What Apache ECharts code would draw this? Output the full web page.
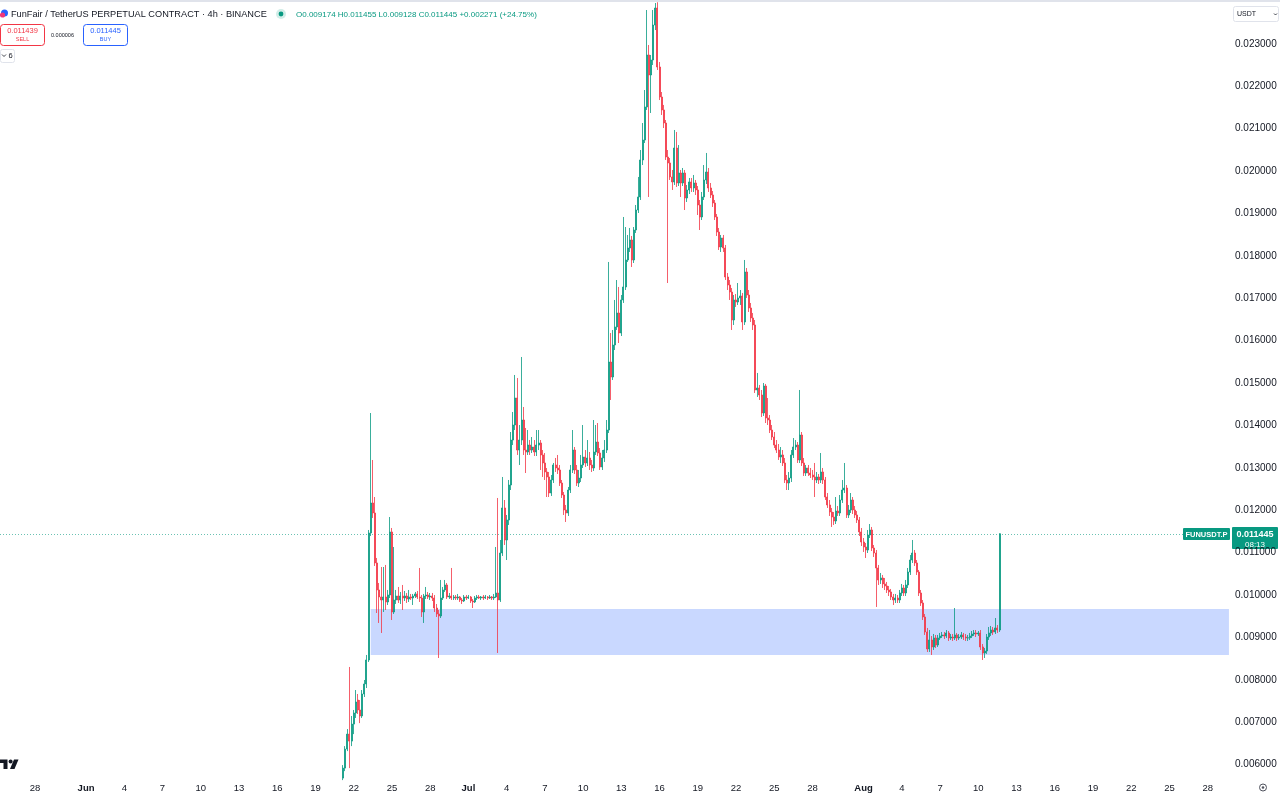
<!DOCTYPE html>
<html><head><meta charset="utf-8">
<script src="https://cdn.jsdelivr.net/npm/echarts@6/dist/echarts.min.js"></script>
<style>html,body{margin:0;padding:0;background:#fff}#c{width:1280px;height:798px}</style>
</head><body><div id="c"></div>
<script>
// ---- data ----
const axisStart = Date.UTC(2025, 4, 25, 8);   // first 4h slot of the time axis
const slotCount = 579;                          // 4h slots shown
const firstCandle = Date.UTC(2025, 5, 21, 4);   // open time of first candle
const dayLabels = [1, 4, 7, 10, 13, 16, 19, 22, 25, 28];
const monthNames = ['Jan','Feb','Mar','Apr','May','Jun','Jul','Aug','Sep','Oct','Nov','Dec'];
const priceTicks = [0.006,0.007,0.008,0.009,0.010,0.011,0.012,0.013,0.014,0.015,0.016,0.017,0.018,0.019,0.020,0.021,0.022,0.023];
const lastPrice = 0.011445;
const sellPrice = '0.011439', buyPrice = '0.011445', spread = '0.000006';
const ohlcHeader = 'O0.009174 H0.011455 L0.009128 C0.011445 +0.002271 (+24.75%)';
const zone = { start: Date.UTC(2025, 5, 23, 8), top: 0.00967, bottom: 0.008585 };
// [open, close, low, high]
const candles = [
[0.005681,0.005917,0.005634,0.005988],[0.005917,0.006366,0.005846,0.006436],[0.006366,0.006719,0.006318,0.006837],[0.006719,0.006554,0.005917,0.008302],
[0.006554,0.006955,0.006436,0.007146],[0.006955,0.007217,0.006719,0.007288],[0.007217,0.007476,0.007099,0.007759],[0.007523,0.007288,0.007193,0.007665],
[0.007288,0.007146,0.006978,0.007523],[0.007146,0.007665,0.007099,0.007759],[0.007665,0.007901,0.007594,0.007995],[0.007901,0.008467,0.007806,0.008585],
[0.008467,0.011462,0.008420,0.011533],[0.011462,0.012170,0.011391,0.014292],[0.012170,0.011934,0.011816,0.013184],[0.011934,0.010755,0.010684,0.012311],
[0.010755,0.010118,0.009575,0.010873],[0.010118,0.009953,0.009340,0.010283],[0.009953,0.009882,0.009104,0.010660],[0.009882,0.009953,0.009599,0.010660],
[0.009953,0.009835,0.009646,0.010708],[0.009835,0.010000,0.009764,0.010118],[0.010000,0.011486,0.009929,0.011839],[0.011486,0.009599,0.009410,0.011580],
[0.009599,0.009882,0.009552,0.011132],[0.009882,0.009976,0.009788,0.010118],[0.009976,0.009882,0.009811,0.010189],[0.009882,0.009976,0.009788,0.010071],
[0.009976,0.009929,0.009646,0.010236],[0.009929,0.009976,0.009858,0.010094],[0.009976,0.009906,0.009811,0.010047],[0.009906,0.009953,0.009835,0.010118],
[0.009953,0.009929,0.009882,0.010024],[0.009929,0.009976,0.009764,0.010024],[0.009976,0.010024,0.009929,0.010071],[0.010024,0.009953,0.009906,0.010094],
[0.009953,0.009929,0.009835,0.010637],[0.009929,0.009599,0.009481,0.010000],[0.009599,0.009976,0.009340,0.010024],[0.009976,0.010000,0.009906,0.010189],
[0.010000,0.009953,0.009906,0.010071],[0.009953,0.009976,0.009882,0.010047],[0.009976,0.009929,0.009858,0.010047],[0.009929,0.009693,0.009599,0.010000],
[0.009693,0.009552,0.009481,0.009788],[0.009552,0.009505,0.008514,0.009646],[0.009505,0.009929,0.009457,0.010354],[0.009929,0.010118,0.009882,0.010189],
[0.010118,0.010236,0.010071,0.010354],[0.010236,0.009953,0.009906,0.010283],[0.009953,0.009976,0.009906,0.010047],[0.009976,0.009929,0.009882,0.010637],
[0.009929,0.009953,0.009882,0.010000],[0.009953,0.009929,0.009882,0.010000],[0.009929,0.009953,0.009882,0.010024],[0.009953,0.009882,0.009835,0.009976],
[0.009882,0.009858,0.009788,0.009929],[0.009858,0.009953,0.009835,0.010000],[0.009953,0.009929,0.009882,0.010000],[0.009929,0.009953,0.009906,0.010000],
[0.009953,0.009858,0.009811,0.009976],[0.009858,0.009835,0.009693,0.009906],[0.009835,0.009929,0.009811,0.009976],[0.009929,0.009953,0.009882,0.010000],
[0.009953,0.009929,0.009906,0.010000],[0.009929,0.009953,0.009882,0.009976],[0.009953,0.009929,0.009882,0.010000],[0.009929,0.009953,0.009906,0.010000],
[0.009953,0.009929,0.009882,0.009976],[0.009929,0.009953,0.009906,0.010000],[0.009953,0.009929,0.009882,0.009976],[0.009929,0.009953,0.009882,0.010024],
[0.009953,0.010047,0.009929,0.011132],[0.010047,0.009882,0.008632,0.012288],[0.009882,0.010990,0.009835,0.011297],[0.010990,0.012052,0.010920,0.012783],
[0.012052,0.011297,0.011179,0.012240],[0.011297,0.011769,0.010825,0.011887],[0.011769,0.012594,0.011651,0.012712],[0.012594,0.013655,0.012476,0.013844],
[0.013655,0.014009,0.013537,0.014316],[0.014009,0.014646,0.013891,0.015189],[0.014646,0.013419,0.013302,0.015118],[0.013419,0.013655,0.013066,0.014009],
[0.013655,0.014127,0.013537,0.015613],[0.014127,0.013419,0.013302,0.014434],[0.013419,0.013372,0.012877,0.013939],[0.013372,0.013537,0.013302,0.013891],
[0.013537,0.013419,0.013302,0.013655],[0.013419,0.013490,0.013349,0.013726],[0.013490,0.013372,0.013278,0.013655],[0.013372,0.013537,0.013278,0.013891],
[0.013537,0.013585,0.013419,0.013891],[0.013585,0.013302,0.012948,0.013655],[0.013302,0.013113,0.012783,0.013419],[0.013113,0.012901,0.012712,0.013349],
[0.012901,0.012783,0.012311,0.012995],[0.012783,0.012405,0.012311,0.012901],[0.012405,0.012712,0.012335,0.012830],[0.012712,0.013066,0.012641,0.013113],
[0.013066,0.012995,0.012901,0.013231],[0.012995,0.012948,0.012854,0.013302],[0.012948,0.012641,0.012571,0.013066],[0.012641,0.012358,0.012288,0.012712],
[0.012358,0.012005,0.011887,0.012429],[0.012005,0.011934,0.011722,0.012123],[0.011934,0.012476,0.011863,0.012547],[0.012476,0.012948,0.012405,0.013066],
[0.012948,0.013419,0.012877,0.013891],[0.013419,0.012948,0.012854,0.013490],[0.012948,0.012641,0.012571,0.013066],[0.012641,0.012759,0.012547,0.012948],
[0.012759,0.013066,0.012665,0.013302],[0.013066,0.013254,0.012995,0.014009],[0.013254,0.013113,0.013019,0.013419],[0.013113,0.013231,0.013042,0.013655],
[0.013231,0.013066,0.012948,0.013372],[0.013066,0.012995,0.012901,0.013184],[0.012995,0.013372,0.012925,0.014127],[0.013372,0.013608,0.013302,0.014009],
[0.013608,0.013349,0.013278,0.014056],[0.013349,0.013019,0.012948,0.013466],[0.013019,0.013231,0.012948,0.013419],[0.013231,0.013419,0.013137,0.013655],
[0.013419,0.013891,0.013349,0.014127],[0.013891,0.015495,0.013820,0.017854],[0.015495,0.015141,0.014599,0.016179],[0.015141,0.015896,0.015071,0.016250],
[0.015896,0.016321,0.015778,0.016958],[0.016321,0.016651,0.016250,0.017429],[0.016651,0.016179,0.015943,0.017264],[0.016179,0.016958,0.016108,0.017075],
[0.016958,0.017264,0.016887,0.018915],[0.017264,0.017901,0.017193,0.018679],[0.017901,0.018184,0.017854,0.018491],[0.018184,0.018373,0.018090,0.018656],
[0.018373,0.017901,0.017736,0.018467],[0.017901,0.018608,0.017830,0.018679],[0.018608,0.019080,0.018538,0.019198],[0.019080,0.019387,0.019009,0.019859],
[0.019387,0.020260,0.019316,0.020495],[0.020260,0.020731,0.020141,0.021132],[0.020731,0.021510,0.020660,0.021910],[0.021510,0.022736,0.021439,0.023797],
[0.022736,0.022264,0.019387,0.022972],[0.022264,0.022618,0.021368,0.022736],[0.022618,0.023443,0.022500,0.023797],[0.023443,0.023844,0.023325,0.023962],
[0.023844,0.022453,0.022382,0.023980],[0.022453,0.021745,0.021674,0.022571],[0.021745,0.021439,0.021321,0.021863],[0.021439,0.021132,0.021014,0.021558],
[0.021132,0.020330,0.020260,0.021203],[0.020330,0.020189,0.017358,0.020495],[0.020189,0.019859,0.019788,0.020307],[0.019859,0.019741,0.019552,0.020024],
[0.019741,0.020542,0.019670,0.020967],[0.020542,0.019717,0.019623,0.020920],[0.019717,0.019953,0.019646,0.020613],[0.019953,0.019717,0.019387,0.020024],
[0.019717,0.019953,0.019646,0.020071],[0.019953,0.019363,0.019080,0.020024],[0.019363,0.019552,0.019269,0.019670],[0.019552,0.019741,0.019458,0.019835],
[0.019741,0.019599,0.019505,0.019835],[0.019599,0.019717,0.019505,0.019906],[0.019717,0.019552,0.019434,0.019788],[0.019552,0.019198,0.018962,0.019646],
[0.019198,0.018915,0.018608,0.019316],[0.018915,0.019387,0.018844,0.019505],[0.019387,0.019788,0.019316,0.020141],[0.019788,0.019976,0.019693,0.020425],
[0.019976,0.019599,0.019505,0.020071],[0.019599,0.019434,0.019363,0.019717],[0.019434,0.019245,0.019151,0.019528],[0.019245,0.018915,0.018844,0.019316],
[0.018915,0.018561,0.018467,0.018986],[0.018561,0.018208,0.018137,0.018656],[0.018208,0.018420,0.018090,0.018491],[0.018420,0.018184,0.018090,0.018491],
[0.018184,0.017500,0.017429,0.018255],[0.017500,0.017311,0.017193,0.017594],[0.017311,0.017146,0.016958,0.017429],[0.017146,0.016486,0.016250,0.017240],
[0.016486,0.016958,0.016368,0.017075],[0.016958,0.016910,0.016793,0.017099],[0.016910,0.017005,0.016840,0.017358],[0.017005,0.017052,0.016840,0.017193],
[0.017052,0.016439,0.016250,0.017123],[0.016439,0.017618,0.016368,0.017901],[0.017618,0.017075,0.017005,0.017712],[0.017075,0.016769,0.016675,0.017193],
[0.016769,0.016533,0.016439,0.016887],[0.016533,0.016368,0.016250,0.016651],[0.016368,0.014835,0.014764,0.016486],[0.014835,0.014882,0.014670,0.015236],
[0.014882,0.014717,0.014599,0.014953],[0.014717,0.014292,0.014198,0.014835],[0.014292,0.014929,0.014222,0.015000],[0.014929,0.014175,0.014056,0.014977],
[0.014175,0.014127,0.014009,0.014646],[0.014127,0.013891,0.013820,0.014245],[0.013891,0.013726,0.013655,0.014009],[0.013726,0.013537,0.013466,0.013844],
[0.013537,0.013419,0.013349,0.013655],[0.013419,0.013254,0.013184,0.013561],[0.013254,0.013302,0.013113,0.013490],[0.013302,0.013113,0.013042,0.013419],
[0.013113,0.012712,0.012641,0.013231],[0.012712,0.012641,0.012476,0.012830],[0.012641,0.012759,0.012476,0.012901],[0.012759,0.013302,0.012665,0.013419],
[0.013302,0.013490,0.013231,0.013702],[0.013490,0.013537,0.013419,0.013655],[0.013537,0.013184,0.013113,0.013608],[0.013184,0.013773,0.013113,0.014835],
[0.013773,0.013113,0.013042,0.013844],[0.013113,0.012877,0.012807,0.013231],[0.012877,0.012995,0.012807,0.013066],[0.012995,0.012877,0.012807,0.013066],
[0.012877,0.012830,0.012759,0.012995],[0.012830,0.012783,0.012712,0.012948],[0.012783,0.012712,0.012311,0.013113],[0.012712,0.012783,0.012641,0.012901],
[0.012783,0.012712,0.012618,0.012854],[0.012712,0.012901,0.012641,0.013349],[0.012901,0.012712,0.012618,0.012995],[0.012712,0.012311,0.012240,0.012783],
[0.012311,0.012123,0.012052,0.012405],[0.012123,0.011957,0.011863,0.012240],[0.011957,0.011839,0.011604,0.012052],[0.011839,0.011745,0.011651,0.011957],
[0.011745,0.011981,0.011674,0.012311],[0.011981,0.011934,0.011863,0.012099],[0.011934,0.012240,0.011863,0.012358],[0.012240,0.012476,0.012170,0.012712],
[0.012476,0.012523,0.012405,0.013113],[0.012523,0.011887,0.011816,0.012594],[0.011887,0.012005,0.011816,0.012123],[0.012005,0.012240,0.011934,0.012405],
[0.012240,0.012005,0.011910,0.012311],[0.012005,0.011887,0.011816,0.012099],[0.011887,0.011769,0.011698,0.011981],[0.011769,0.011486,0.011391,0.011839],
[0.011486,0.011250,0.011155,0.011580],[0.011250,0.011132,0.011014,0.011344],[0.011132,0.011061,0.010873,0.011226],[0.011061,0.011415,0.010990,0.011533],
[0.011415,0.011533,0.011344,0.011674],[0.011533,0.011108,0.011037,0.011604],[0.011108,0.010990,0.010896,0.011179],[0.010990,0.010637,0.009717,0.011061],
[0.010637,0.010354,0.010236,0.010708],[0.010354,0.010401,0.010260,0.010519],[0.010401,0.010260,0.010165,0.010472],[0.010260,0.010212,0.010118,0.010401],
[0.010212,0.010118,0.010047,0.010307],[0.010118,0.010071,0.009976,0.010212],[0.010071,0.009953,0.009882,0.010142],[0.009953,0.009882,0.009764,0.010024],
[0.009882,0.009929,0.009811,0.010024],[0.009929,0.009882,0.009811,0.010000],[0.009882,0.010047,0.009811,0.010118],[0.010047,0.010165,0.009976,0.010260],
[0.010165,0.010047,0.009976,0.010236],[0.010047,0.010236,0.009976,0.010354],[0.010236,0.010542,0.010165,0.010637],[0.010542,0.010825,0.010472,0.010943],
[0.010825,0.010990,0.010755,0.011297],[0.010990,0.010755,0.010684,0.011061],[0.010755,0.010542,0.010472,0.010825],[0.010542,0.010047,0.009976,0.010590],
[0.010047,0.009811,0.009741,0.010118],[0.009811,0.009481,0.009410,0.009882],[0.009481,0.009127,0.009057,0.009552],[0.009127,0.008727,0.008656,0.009222],
[0.008727,0.008939,0.008656,0.009174],[0.008939,0.008774,0.008585,0.009033],[0.008774,0.008986,0.008703,0.009080],[0.008986,0.008821,0.008750,0.009057],
[0.008821,0.008986,0.008774,0.009057],[0.008986,0.009033,0.008939,0.009104],[0.009033,0.009057,0.008986,0.009127],[0.009057,0.009033,0.008962,0.009127],
[0.009033,0.009104,0.008986,0.009174],[0.009104,0.008986,0.008915,0.009151],[0.008986,0.009009,0.008939,0.009080],[0.009009,0.008986,0.008915,0.009080],
[0.008986,0.009057,0.008939,0.009693],[0.009057,0.008986,0.008915,0.009104],[0.008986,0.009009,0.008939,0.009080],[0.009009,0.009057,0.008962,0.009127],
[0.009057,0.009009,0.008939,0.009104],[0.009009,0.008986,0.008915,0.009080],[0.008986,0.008990,0.008915,0.009057],[0.008990,0.009033,0.008939,0.009104],
[0.009033,0.009080,0.008986,0.009151],[0.009080,0.009104,0.009033,0.009174],[0.009104,0.009080,0.009009,0.009174],[0.009080,0.009104,0.009033,0.009151],
[0.009104,0.008774,0.008703,0.009174],[0.008774,0.008632,0.008467,0.008844],[0.008632,0.008679,0.008514,0.008750],[0.008679,0.009009,0.008609,0.009080],
[0.009009,0.009104,0.008939,0.009245],[0.009104,0.009174,0.009033,0.009269],[0.009174,0.009127,0.009057,0.009245],[0.009127,0.009222,0.009080,0.009457],
[0.009222,0.009174,0.009104,0.009292],[0.009174,0.011445,0.009128,0.011455]
];

// ---- build ----
const H4 = 4 * 3600 * 1000;
const UP = '#089981', DOWN = '#f23645', TXT = '#131722';
const FAMILY = '"Liberation Sans", Arial, sans-serif';
const categories = [];
for (let k = 0; k < slotCount; k++) categories.push(String(axisStart + k * H4));
const offset = Math.round((firstCandle - axisStart) / H4);
const seriesData = categories.map(() => ['-', '-', '-', '-']);
candles.forEach((c, j) => { seriesData[offset + j] = c; });
const zoneStartCat = String(zone.start);

function isLabelSlot(v) {
  const d = new Date(+v);
  return d.getUTCHours() === 0 && dayLabels.indexOf(d.getUTCDate()) >= 0;
}

const chart = echarts.init(document.getElementById('c'));
chart.setOption({
  animation: false,
  backgroundColor: '#ffffff',
  grid: { left: 0, right: 50, top: 1.4, bottom: 20.7 },
  xAxis: {
    type: 'category', data: categories, boundaryGap: true,
    axisLine: { show: false }, axisTick: { show: false }, splitLine: { show: false },
    axisLabel: {
      interval: (i, v) => isLabelSlot(v), margin: 6,
      color: TXT, fontSize: 9.5, fontFamily: FAMILY,
      formatter: (v) => {
        const d = new Date(+v);
        return d.getUTCDate() === 1 ? '{m|' + monthNames[d.getUTCMonth()] + '}' : String(d.getUTCDate());
      },
      rich: { m: { fontWeight: 'bold', fontSize: 9.5, fontFamily: FAMILY, color: TXT } }
    }
  },
  yAxis: {
    type: 'value', position: 'right', min: 0.0057, max: 0.0240, interval: 0.0001,
    axisLine: { show: false }, axisTick: { show: false }, splitLine: { show: false },
    axisLabel: {
      margin: 5, color: TXT, fontSize: 10, fontFamily: FAMILY,
      formatter: (v) => {
        const r = Math.round(v * 1e4) / 1e4;
        return priceTicks.some(p => Math.abs(p - r) < 1e-9) ? r.toFixed(6) : '';
      }
    }
  },
  series: [{
    type: 'candlestick', data: seriesData, large: false, barWidth: 1.5,
    itemStyle: { color: UP, color0: DOWN, borderColor: UP, borderColor0: DOWN, borderWidth: 0.8 },
    emphasis: { disabled: true },
    markArea: {
      silent: true, itemStyle: { color: 'rgba(41,98,255,0.25)' },
      data: [[{ xAxis: zoneStartCat, yAxis: zone.top }, { xAxis: categories[slotCount - 1], yAxis: zone.bottom }]]
    }
  }]
});

const yLine = Math.round(chart.convertToPixel({ yAxisIndex: 0 }, lastPrice)) + 0.5;
const t = (x, y, text, size, fill, extra) => ({
  type: 'text', x: x, y: y, silent: true,
  style: Object.assign({ text: text, fontSize: size, fontFamily: FAMILY, fill: fill, verticalAlign: 'middle' }, extra || {})
});
chart.setOption({
  graphic: [
    { type: 'rect', shape: { x: 0, y: 0, width: 1280, height: 2 }, style: { fill: '#e0e3eb' }, silent: true },
    { type: 'circle', shape: { cx: 4.5, cy: 13, r: 3.5 }, style: { fill: '#2962ff' }, silent: true },
    { type: 'circle', shape: { cx: 2.5, cy: 15, r: 2.6 }, style: { fill: '#f2367a' }, silent: true },
    t(11, 14.5, 'FunFair / TetherUS PERPETUAL CONTRACT · 4h · BINANCE', 9.2, TXT),
    { type: 'circle', shape: { cx: 281, cy: 14, r: 5 }, style: { fill: 'rgba(8,153,129,0.18)' }, silent: true },
    { type: 'circle', shape: { cx: 281, cy: 14, r: 2.4 }, style: { fill: UP }, silent: true },
    t(296, 14.5, ohlcHeader, 8, UP),
    { type: 'rect', shape: { x: 0.5, y: 24.5, width: 44, height: 21, r: 3 }, style: { fill: '#fff', stroke: DOWN, lineWidth: 1 }, silent: true },
    t(22.5, 31, sellPrice, 7.5, DOWN, { align: 'center' }),
    t(22.5, 39.5, 'SELL', 5.5, DOWN, { align: 'center' }),
    t(62.5, 35.5, spread, 5.5, TXT, { align: 'center' }),
    { type: 'rect', shape: { x: 83.5, y: 24.5, width: 44, height: 21, r: 3 }, style: { fill: '#fff', stroke: '#2962ff', lineWidth: 1 }, silent: true },
    t(105.5, 31, buyPrice, 7.5, '#2962ff', { align: 'center' }),
    t(105.5, 39.5, 'BUY', 5.5, '#2962ff', { align: 'center' }),
    { type: 'rect', shape: { x: 0.5, y: 49.5, width: 14, height: 13, r: 2 }, style: { fill: '#fff', stroke: '#e0e3eb', lineWidth: 1 }, silent: true },
    { type: 'polyline', shape: { points: [[2, 54.5], [4, 56.5], [6, 54.5]] }, style: { stroke: TXT, lineWidth: 0.8, fill: null }, silent: true },
    t(8.5, 56, '6', 7.5, TXT),
    { type: 'rect', shape: { x: 1233.5, y: 6.5, width: 45, height: 15, r: 2 }, style: { fill: '#fff', stroke: '#e0e3eb', lineWidth: 1 }, silent: true },
    t(1237, 14.5, 'USDT', 7, TXT),
    { type: 'polyline', shape: { points: [[1274, 13.5], [1275.5, 15], [1277, 13.5]] }, style: { stroke: TXT, lineWidth: 0.8, fill: null }, silent: true },
    // last-price dotted line and tags
    { type: 'line', shape: { x1: 0, y1: yLine, x2: 1230, y2: yLine }, style: { stroke: UP, lineWidth: 1, lineDash: [1, 2], opacity: 0.6 }, silent: true },
    { type: 'rect', shape: { x: 1183, y: yLine - 6.5, width: 47, height: 12, r: 1 }, style: { fill: UP }, silent: true },
    t(1206.5, yLine, 'FUNUSDT.P', 7.5, '#fff', { align: 'center', fontWeight: 'bold' }),
    { type: 'rect', shape: { x: 1232, y: yLine - 7.5, width: 46, height: 22, r: 1 }, style: { fill: UP }, silent: true },
    t(1255, yLine, '0.011445', 9, '#fff', { align: 'center', fontWeight: 'bold' }),
    t(1255, yLine + 10, '08:13', 8, '#fff', { align: 'center' }),
    // TradingView logo (approx)
    { type: 'polygon', shape: { points: [[0, 759.5], [7.5, 759.5], [7.5, 769], [3.5, 769], [3.5, 763], [0, 763]] }, style: { fill: '#131722' }, silent: true },
    { type: 'circle', shape: { cx: 10.6, cy: 761.5, r: 2 }, style: { fill: '#131722' }, silent: true },
    { type: 'polygon', shape: { points: [[14, 759.5], [18.5, 759.5], [14.5, 769], [10, 769]] }, style: { fill: '#131722' }, silent: true },
    // bottom-right settings icon
    { type: 'circle', shape: { cx: 1263, cy: 787.5, r: 3.5 }, style: { fill: null, stroke: '#50535e', lineWidth: 1 }, silent: true },
    { type: 'circle', shape: { cx: 1263, cy: 787.5, r: 1.3 }, style: { fill: '#50535e' }, silent: true }
  ]
});
</script>
</body></html>
